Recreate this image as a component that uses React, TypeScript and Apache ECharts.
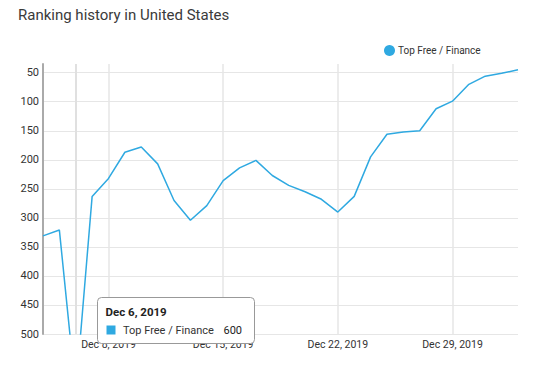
import React, { useEffect, useRef } from "react";
import * as echarts from "echarts";

const titleText = "Ranking history in United States";
const seriesName = "Top Free / Finance";
const dates = [
  "2019-12-04", "2019-12-05", "2019-12-06", "2019-12-07", "2019-12-08", "2019-12-09",
  "2019-12-10", "2019-12-11", "2019-12-12", "2019-12-13", "2019-12-14", "2019-12-15",
  "2019-12-16", "2019-12-17", "2019-12-18", "2019-12-19", "2019-12-20", "2019-12-21",
  "2019-12-22", "2019-12-23", "2019-12-24", "2019-12-25", "2019-12-26", "2019-12-27",
  "2019-12-28", "2019-12-29", "2019-12-30", "2019-12-31", "2020-01-01", "2020-01-02",
];
const ranks = [
  331, 321, 600, 263, 232, 187,
  178, 207, 270, 304, 279, 236,
  214, 201, 227, 244, 255, 268,
  290, 263, 195, 156, 152, 150,
  112, 99, 70, 56, 51, 45,
];
const yMin = 35;
const yMax = 500;
const hoveredDate = "2019-12-06";

const MONTHS = ["Jan", "Feb", "Mar", "Apr", "May", "Jun", "Jul", "Aug", "Sep", "Oct", "Nov", "Dec"];
const fmtDate = (s: string) => {
  const d = new Date(s + "T00:00:00Z");
  return `${MONTHS[d.getUTCMonth()]} ${d.getUTCDate()}, ${d.getUTCFullYear()}`;
};
const isSunday = (s: string) => new Date(s + "T00:00:00Z").getUTCDay() === 0;

const LINE = "#2fa9e1";
const FONT = "Roboto";

export default function App() {
  const ref = useRef<HTMLDivElement>(null);
  useEffect(() => {
    if (!ref.current) return;
    const chart = echarts.init(ref.current, undefined, { renderer: "svg" });
    const hoverIdx = dates.indexOf(hoveredDate);
    const splitColors = Array.from({ length: 11 }, (_, i) => (i === 0 ? "rgba(0,0,0,0)" : "#e6e6e6"));
    chart.setOption({
      animation: false,
      textStyle: { fontFamily: FONT },
      title: {
        text: titleText,
        left: 18,
        top: 7,
        padding: 0,
        textStyle: { fontSize: 15, fontWeight: "normal", color: "#3a3a3a", fontFamily: FONT },
      },
      legend: {
        data: [{ name: seriesName, icon: "circle" }],
        left: 384,
        top: 45,
        padding: 0,
        itemWidth: 11,
        itemHeight: 11,
        itemGap: 4,
        textStyle: { fontSize: 10, color: "#333", fontFamily: FONT, padding: [0, 0, 0, -2] },
      },
      grid: { left: 43, right: 27, top: 64, bottom: 33, containLabel: false },
      xAxis: {
        type: "category",
        data: dates,
        boundaryGap: false,
        axisLine: { show: false },
        axisTick: { show: false },
        axisLabel: {
          interval: (_i: number, v: string) => isSunday(v),
          formatter: (v: string) => fmtDate(v),
          fontSize: 10.5,
          color: "#333",
          margin: 5,
          fontFamily: FONT,
        },
        splitLine: {
          show: true,
          interval: (_i: number, v: string) => isSunday(v),
          lineStyle: { color: "#e6e6e6", width: 1.5 },
        },
      },
      yAxis: {
        type: "value",
        inverse: true,
        min: yMin,
        max: yMax,
        minInterval: 50,
        maxInterval: 50,
        axisLine: { show: true, lineStyle: { color: "#aaa", width: 2 } },
        axisTick: { show: false },
        axisLabel: { showMinLabel: false, fontSize: 11, color: "#333", margin: 4, fontFamily: FONT },
        splitLine: { show: true, lineStyle: { color: splitColors, width: 1 } },
      },
      series: [
        {
          name: seriesName,
          type: "line",
          data: ranks,
          color: LINE,
          showSymbol: false,
          symbol: "none",
          lineStyle: { color: LINE, width: 1.5 },
          clip: true,
          markLine: {
            silent: true,
            symbol: "none",
            label: { show: false },
            lineStyle: { color: "#e0e0e0", width: 2, type: "solid" },
            data: [{ xAxis: hoveredDate }],
          },
        },
      ],
      graphic: [
        {
          type: "group",
          left: 97,
          top: 297,
          z: 100,
          children: [
            {
              type: "rect",
              z: 100,
              shape: { x: 0, y: 0, width: 157, height: 46, r: 4 },
              style: { fill: "#fff", stroke: "#999", lineWidth: 1 },
            },
            {
              type: "text",
              z: 101,
              x: 8,
              y: 14,
              style: {
                text: fmtDate(hoveredDate),
                font: `bold 11.5px ${FONT}`,
                fill: "#222",
                verticalAlign: "middle",
              },
            },
            {
              type: "rect",
              z: 101,
              shape: { x: 9, y: 28, width: 9, height: 9 },
              style: { fill: LINE },
            },
            {
              type: "text",
              z: 101,
              x: 25.5,
              y: 32.5,
              style: { text: seriesName, font: `11px ${FONT}`, fill: "#333", verticalAlign: "middle" },
            },
            {
              type: "text",
              z: 101,
              x: 126,
              y: 32.5,
              style: { text: String(ranks[hoverIdx]), font: `11px ${FONT}`, fill: "#222", verticalAlign: "middle" },
            },
          ],
        },
      ],
    });
    return () => chart.dispose();
  }, []);
  return <div ref={ref} style={{ width: 545, height: 367, position: "absolute", left: 0, top: 0 }} />;
}
